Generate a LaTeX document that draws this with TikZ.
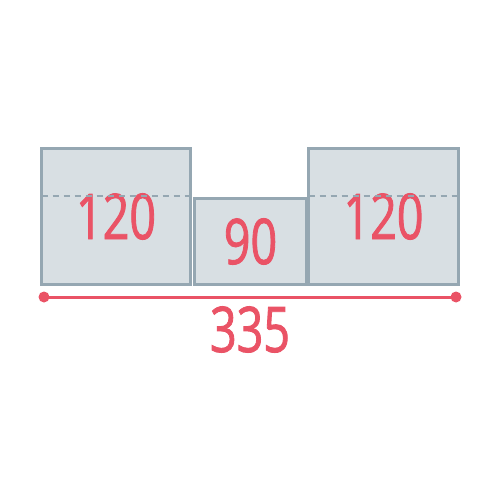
\documentclass[tikz,border=0pt]{standalone}
\usepackage{fontspec}
\setmainfont[FakeStretch=0.74, FakeBold=1.3]{Open Sans}
\usepackage{xcolor}
\usepackage{tikz}
\usetikzlibrary{positioning,calc}

\definecolor{boxfill}{HTML}{D8DFE3}
\definecolor{boxline}{HTML}{95A7B2}
\definecolor{dimred}{HTML}{EA5366}

\begin{document}
\begin{tikzpicture}[x=1pt, y=-1pt, semithick]
	\tikzstyle{every node}=[inner sep=0pt, outer sep=0pt]
	\tikzstyle{panel}=[draw=boxline, fill=boxfill, line width=3pt, text=dimred, font=\fontsize{63}{63}\selectfont]
	\tikzstyle{fold}=[draw=boxline, line width=1.3pt, dash pattern=on 6pt off 5pt]
	\tikzstyle{dimline}=[draw=dimred, line width=3pt]
	\tikzstyle{dimdot}=[circle, fill=dimred, minimum size=11pt]
	\useasboundingbox (0,0) rectangle (500,500);
	
	\node[panel, minimum width=149pt, minimum height=136pt] (L) at (116,216.5) {120};
	\node[panel, minimum width=112pt, minimum height=86pt]  (M) at (250.5,241.5) {90};
	\node[panel, minimum width=150pt, minimum height=136pt] (R) at (383.5,216.5) {120};
	
	% fold lines
	\draw[fold] ($(L.west)+(0,-20.5)$) -- ($(L.east)+(0,-20.5)$);
	\draw[fold] ($(R.west)+(0,-20.5)$) -- ($(R.east)+(0,-20.5)$);
	
	% overall width
	\node[dimdot] (A) at (44,297) {};
	\node[dimdot] (B) at (456,297) {};
	\draw[dimline] (A.center) -- (B.center);
	\node[text=dimred, font=\fontsize{63}{63}\selectfont] (W) at (250,329.5) {335};
\end{tikzpicture}
\end{document}
